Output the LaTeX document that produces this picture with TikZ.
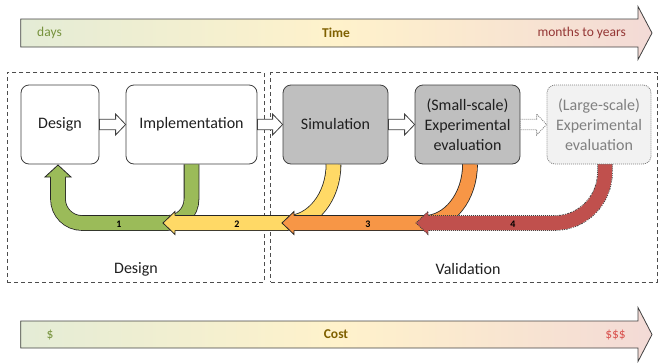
\documentclass[tikz,border=0pt]{standalone}
\usepackage{fontspec}
\setmainfont{Carlito}
\definecolor{boxline}{HTML}{404040}
\definecolor{frameline}{HTML}{4D4D4D}
\definecolor{simfill}{HTML}{BFBFBF}
\definecolor{largefill}{HTML}{F2F2F2}
\definecolor{largetext}{HTML}{808080}
\definecolor{grn}{HTML}{9BBB59}
\definecolor{ylw}{HTML}{FFD966}
\definecolor{org}{HTML}{F79646}
\definecolor{rd}{HTML}{C0504D}
\definecolor{barL}{HTML}{E4ECD6}
\definecolor{barM}{HTML}{FFF2CB}
\definecolor{barR}{HTML}{F3DAD6}
\definecolor{olive}{HTML}{76923C}
\definecolor{brownish}{HTML}{7F6000}
\definecolor{darkred}{HTML}{943634}
\definecolor{cashred}{HTML}{D9534F}
\definecolor{ink}{HTML}{1F1F1F}

% white block arrow between two stages
\newcommand\stagearrow[3][]{%
  \draw[blockarrow,#1] ([yshift=5.25pt]#2.east) -- ([yshift=5.25pt,xshift=-10pt]#3.west)
    -- ([yshift=10.5pt,xshift=-10pt]#3.west) -- (#3.west)
    -- ([yshift=-10.5pt,xshift=-10pt]#3.west) -- ([yshift=-5.25pt,xshift=-10pt]#3.west)
    -- ([yshift=-5.25pt]#2.east) -- cycle;}

\begin{document}
\begin{tikzpicture}[x=1pt,y=-1pt,
  frame/.style={draw=frameline, line width=0.8pt, dash pattern=on 4pt off 3pt, inner sep=0},
  stage/.style={draw=boxline, line width=0.8pt, rounded corners=8pt, align=center, inner sep=0,
    minimum height=79pt, font=\fontsize{16}{20}\selectfont, text=ink},
  blockarrow/.style={draw=boxline, line width=0.8pt, fill=white, line join=miter},
  band/.style={line width=0.8pt, draw=black!85, double=#1, double distance=14pt},
  headline/.style={draw=black!85, line width=0.8pt, line join=miter},
  axisbar/.style={draw=boxline, line width=0.8pt, left color=barL, right color=barR, middle color=barM},
  axistext/.style={font=\fontsize{13.5}{16}\selectfont, inner sep=0},
  num/.style={font=\bfseries\fontsize{10}{10}\selectfont, inner sep=0, text=black},
  area/.style={font=\fontsize{16}{20}\selectfont, inner sep=0, text=ink}]
\useasboundingbox (0,0) rectangle (661,362);

% time and cost axes
\shadedraw[axisbar] (20.7,19) -- (638,19) -- (638,6.5) -- (652,33) -- (638,59.5) -- (638,47) -- (20.7,47) -- cycle;
\node[axistext, text=olive, anchor=west] (days) at (37,33) {days};
\node[axistext, text=brownish, font=\bfseries\fontsize{13.5}{16}\selectfont] (time) at (336,33) {Time};
\node[axistext, text=darkred, anchor=east] (years) at (626,33) {months to years};

\shadedraw[axisbar] (20.7,321) -- (638,321) -- (638,307.5) -- (652,334.5) -- (638,361.5) -- (638,348) -- (20.7,348) -- cycle;
\node[axistext, text=olive] (cheap) at (50,334.5) {\$};
\node[axistext, text=brownish, font=\bfseries\fontsize{13.5}{16}\selectfont] (cost) at (336,334.5) {Cost};
\node[axistext, text=cashred, anchor=east] (dear) at (626,334.5) {\$\$\$};

% phase frames
\node[frame, minimum width=257pt, minimum height=209.3pt] (designarea) at (135.5,177.35) {};
\node[frame, minimum width=386.3pt, minimum height=209.3pt] (validarea) at (463.85,177.35) {};
\node[area] (designlabel) at (136,269) {Design};
\node[area] (validlabel) at (468,269) {Validation};

% stages
\node[stage, fill=white, minimum width=78pt] (design) at (60,124.5) {Design};
\node[stage, fill=white, minimum width=131pt] (impl) at (191.5,124.5) {Implementation};
\node[stage, fill=simfill, minimum width=105pt] (sim) at (335.5,124.5) {Simulation};
\node[stage, fill=simfill, minimum width=105pt] (small) at (467.5,124.5) {(Small-scale)\\Experimental\\evaluation};
\node[stage, fill=largefill, draw=largetext, dash pattern=on 1pt off 1pt, text=largetext,
  minimum width=104pt] (large) at (599,124.5) {(Large-scale)\\Experimental\\evaluation};

% forward flow
\stagearrow{design}{impl}
\stagearrow{impl}{sim}
\stagearrow{sim}{small}
\stagearrow[draw=largetext, dash pattern=on 1pt off 1pt]{small}{large}

% feedback loop 1
\draw[band=grn] (impl.south) -- (191.5,199) .. controls (191.5,212.3) and (180.8,223) .. (167.5,223)
  -- (82,223) .. controls (68.7,223) and (58,212.3) .. (58,199) -- (58,176.5);
\fill[grn] (45,177) -- (58,165) -- (71,177) -- cycle;
\draw[headline] (50.6,177) -- (45,177) -- (58,165) -- (71,177) -- (65.4,177);

% feedback loop 2
\draw[band=ylw] ([xshift=-2pt]sim.south) .. controls (333.5,196.6) and (312.7,223) .. (287,223) -- (174.5,223);
\fill[ylw] (175,211.5) -- (163,223) -- (175,234.5) -- cycle;
\draw[headline] (175,215.6) -- (175,211.5) -- (163,223) -- (175,234.5) -- (175,230.4);

% feedback loop 3
\draw[band=org] ([xshift=2.5pt]small.south) .. controls (470,196.6) and (449.4,223) .. (424,223) -- (293.5,223);
\fill[org] (294,211.5) -- (282,223) -- (294,234.5) -- cycle;
\draw[headline] (294,215.6) -- (294,211.5) -- (282,223) -- (294,234.5) -- (294,230.4);

% feedback loop 4 (dotted outline)
\draw[line width=15.6pt, draw=black!75, dash pattern=on 1pt off 1pt]
  ([xshift=6pt]large.south) -- (605,172) .. controls (605,200.2) and (582.6,223) .. (555,223) -- (427.5,223);
\draw[line width=14pt, draw=rd]
  ([xshift=6pt]large.south) -- (605,172) .. controls (605,200.2) and (582.6,223) .. (555,223) -- (427.5,223);
\fill[rd] (428,211.5) -- (416,223) -- (428,234.5) -- cycle;
\draw[headline, draw=black!75, dash pattern=on 1pt off 1pt] (428,215.2) -- (428,211.5) -- (416,223) -- (428,234.5) -- (428,230.8);

% loop numbers
\node[num] (n1) at (119,224) {1};
\node[num] (n2) at (237,224) {2};
\node[num] (n3) at (368,224) {3};
\node[num] (n4) at (513,224) {4};
\end{tikzpicture}
\end{document}
